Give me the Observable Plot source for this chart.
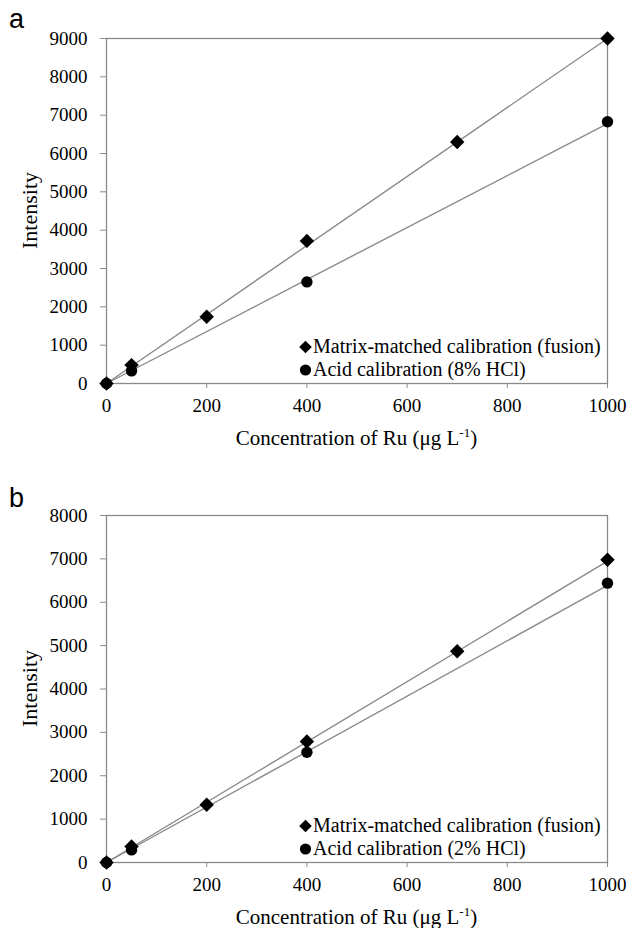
<!DOCTYPE html>
<html>
<head>
<meta charset="utf-8">
<script src="https://cdn.jsdelivr.net/npm/d3@7"></script>
<script src="https://cdn.jsdelivr.net/npm/@observablehq/plot@0.6"></script>
<style>
  html, body { margin: 0; padding: 0; background: #fff; }
  .panel { position: relative; width: 633px; }
  .letter { position: absolute; left: 9px; font-family: "Liberation Sans", Arial, sans-serif; font-size: 27px; line-height: 1; color: #000; }
  .legend { position: absolute; font-family: "Liberation Serif", serif; font-size: 20px; line-height: 23px; color: #000; white-space: nowrap; }
  .legend svg { vertical-align: -1px; margin-right: 1px; }
</style>
</head>
<body>
<div id="root"></div>
<script>
// ---- data ----
const concMatrix = [0, 50, 200, 400, 700, 1000];
const concAcid = [0, 50, 400, 1000];

const matrixA = [0, 480, 1740, 3720, 6300, 9000];
const acidA = [0, 330, 2650, 6830];

const matrixB = [0, 370, 1330, 2790, 4870, 6980];
const acidB = [0, 290, 2540, 6440];

// trend-line end points
const fitX = [0, 1000];
const fitMatrixA = [0, 9000];
const fitAcidA = [0, 6780];
const fitMatrixB = [0, 6950];
const fitAcidB = [0, 6390];

const xTicks = [0, 200, 400, 600, 800, 1000];
const yTicksA = [0, 1000, 2000, 3000, 4000, 5000, 6000, 7000, 8000, 9000];
const yTicksB = [0, 1000, 2000, 3000, 4000, 5000, 6000, 7000, 8000];

const seriesMatrix = "Matrix-matched calibration (fusion)";
const acidLabelA = "Acid calibration (8% HCl)";
const acidLabelB = "Acid calibration (2% HCl)";
const xLabel = "Concentration of Ru (\u03bcg L";
const yLabel = "Intensity";

const toRows = (xs, ys) => xs.map((x, i) => ({x, y: ys[i]}));

const diamondSvg = `<svg width="13" height="14" viewBox="-6.5 -7 13 14"><path d="M0,-6.3L6.3,0L0,6.3L-6.3,0Z" fill="#000"/></svg>`;
const circleSvg = `<svg width="13" height="14" viewBox="-6.5 -7 13 14"><circle r="5.6" fill="#000"/></svg>`;

function panel({letter, letterTop, height, marginTop, marginBottom, yMax, yTicks, matrix, acid, fitM, fitA, acidLabel, legendTop}) {
  const div = document.createElement("div");
  div.className = "panel";
  const gray = "#8a8a8a";
  const plot = Plot.plot({
    width: 633,
    height,
    marginTop,
    marginBottom,
    marginLeft: 106,
    marginRight: 26,
    style: {fontFamily: "'Liberation Serif', serif", fontSize: "19px", color: "#000", background: "#fff"},
    x: {domain: [0, 1000]},
    y: {domain: [0, yMax]},
    marks: [
      Plot.frame({stroke: gray, strokeWidth: 1.3}),
      Plot.axisX({ticks: xTicks, tickSize: 5, tickPadding: 10, stroke: gray, tickFormat: d => String(d), label: null, fontSize: 19}),
      Plot.axisY({ticks: yTicks, tickSize: 6, tickPadding: 13, stroke: gray, tickFormat: d => String(d), label: null, fontSize: 19}),
      Plot.line(toRows(fitX, fitM), {x: "x", y: "y", stroke: gray, strokeWidth: 1.4}),
      Plot.line(toRows(fitX, fitA), {x: "x", y: "y", stroke: gray, strokeWidth: 1.4}),
      Plot.dot(toRows(concAcid, acid), {x: "x", y: "y", symbol: "circle", r: 5.7, fill: "#000", stroke: "none"}),
      Plot.dot(toRows(concMatrix, matrix), {x: "x", y: "y", symbol: "diamond2", r: 6.5, fill: "#000", stroke: "none"})
    ]
  });
  const svg = d3.select(plot);
  const xr = plot.scale("x").range;
  const yr = plot.scale("y").range;
  const cx = (xr[0] + xr[1]) / 2;
  const bottom = Math.max(yr[0], yr[1]);
  const top = Math.min(yr[0], yr[1]);
  const t = svg.append("text")
    .attr("x", cx).attr("y", bottom + 62)
    .attr("text-anchor", "middle")
    .attr("font-size", 21)
    .attr("fill", "#000");
  t.append("tspan").text(xLabel);
  t.append("tspan").attr("font-size", 13).attr("dy", -8).text("-1");
  t.append("tspan").attr("dy", 8).text(")");
  svg.append("text")
    .attr("transform", `translate(37,${(top + bottom) / 2}) rotate(-90)`)
    .attr("text-anchor", "middle")
    .attr("font-size", 22)
    .attr("fill", "#000")
    .text(yLabel);
  div.appendChild(plot);

  const l = document.createElement("div");
  l.className = "letter";
  l.style.top = letterTop + "px";
  l.textContent = letter;
  div.appendChild(l);

  const leg = document.createElement("div");
  leg.className = "legend";
  leg.style.left = "299px";
  leg.style.top = legendTop + "px";
  leg.innerHTML = `<div>${diamondSvg}${seriesMatrix}</div><div>${circleSvg}${acidLabel}</div>`;
  div.appendChild(leg);
  return div;
}

const root = document.getElementById("root");
root.appendChild(panel({
  letter: "a", letterTop: 6, height: 460, marginTop: 38, marginBottom: 77,
  yMax: 9000, yTicks: yTicksA, matrix: matrixA, acid: acidA, fitM: fitMatrixA, fitA: fitAcidA,
  acidLabel: acidLabelA, legendTop: 335
}));
root.appendChild(panel({
  letter: "b", letterTop: 25, height: 468, marginTop: 55, marginBottom: 66,
  yMax: 8000, yTicks: yTicksB, matrix: matrixB, acid: acidB, fitM: fitMatrixB, fitA: fitAcidB,
  acidLabel: acidLabelB, legendTop: 354
}));
</script>
</body>
</html>
